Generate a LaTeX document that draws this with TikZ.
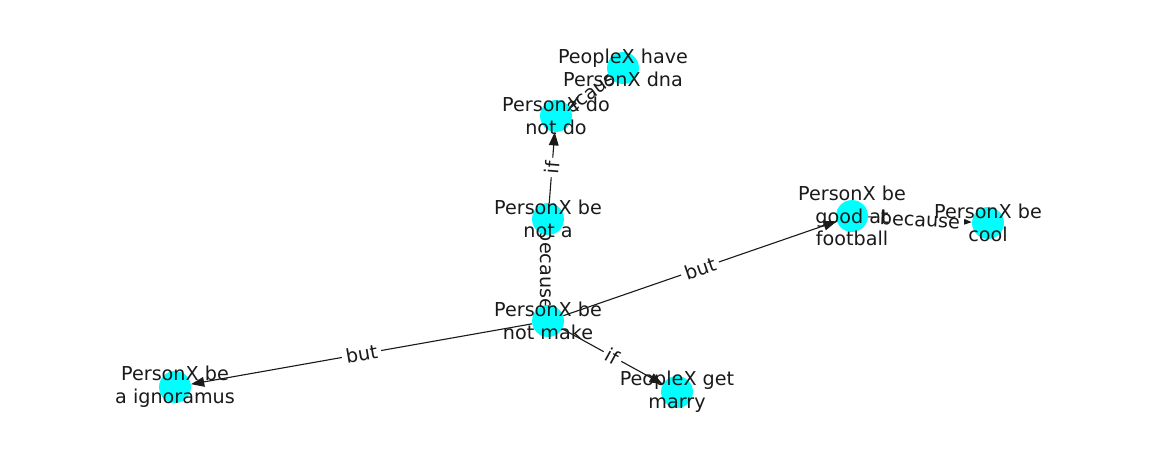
\documentclass[tikz,border=0pt]{standalone}
\usepackage{fontspec}
\setmainfont{DejaVu Sans}
\usetikzlibrary{arrows.meta,calc}
\definecolor{nodecyan}{RGB}{0,255,255}
\definecolor{ink}{RGB}{26,26,26}
\pgfdeclarelayer{edges}
\pgfdeclarelayer{elabels}
\pgfsetlayers{edges,elabels,main}
\begin{document}
\begin{tikzpicture}[x=0.72pt,y=-0.72pt,
  dot/.style={circle,fill=nodecyan,minimum size=23pt,inner sep=0pt},
  txt/.style={align=center,font=\fontsize{13.8pt}{16.3pt}\selectfont,text=ink,inner sep=0pt},
  link/.style={draw=ink,line width=0.8pt,-{Triangle[length=9.5pt,width=7pt]}},
  elabel/.style={fill=white,rounded corners=3pt,inner sep=2.8pt,
    font=\fontsize{13.8pt}{16pt}\selectfont,text=ink}]
\useasboundingbox (0,0) rectangle (1162,462);

% concept nodes
\node[dot] (dna)  at (623,68)  {};
\node[dot] (do)   at (556,116) {};
\node[dot] (nota) at (548,219) {};
\node[dot] (foot) at (852,216) {};
\node[dot] (cool) at (988,223) {};
\node[dot] (make) at (548,321) {};
\node[dot] (ign)  at (175,387) {};
\node[dot] (mar)  at (677,392) {};

\node[txt] (dnat)  at (dna)  {PeopleX have\\PersonX dna};
\node[txt] (dot)   at (do)   {PersonX do\\not do};
\node[txt] (notat) at (nota) {PersonX be\\not a};
\node[txt] (foott) at (foot) {PersonX be\\good at\\football};
\node[txt] (coolt) at (cool) {PersonX be\\cool};
\node[txt] (maket) at (make) {PersonX be\\not make};
\node[txt] (ignt)  at (ign)  {PersonX be\\a ignoramus};
\node[txt] (mart)  at (mar)  {PeopleX get\\marry};

% relations
\begin{pgfonlayer}{edges}
\draw[link] (make) -- (foot);
\draw[link] (make) -- (ign);
\draw[link] (make) -- (mar);
\draw[link] (make) -- (nota);
\draw[link] (nota) -- (do);
\draw[link] (do) -- (dna);
\draw[link] (foot) -- (cool);
\end{pgfonlayer}

% relation labels
\begin{pgfonlayer}{elabels}
\node[elabel,rotate=19.1]  (l1) at ($(make)!0.5!(foot)$) {but};
\node[elabel,rotate=9.9]   (l2) at ($(make)!0.5!(ign)$)  {but};
\node[elabel,rotate=-28.7] (l3) at ($(make)!0.5!(mar)$)  {if};
\node[elabel,rotate=-90]   (l4) at ($(make)!0.5!(nota)$) {because};
\node[elabel,rotate=85.5]  (l5) at ($(nota)!0.5!(do)$)   {if};
\node[elabel,rotate=36]    (l6) at ($(do)!0.5!(dna)$)    {because};
\node[elabel,rotate=-2.9]  (l7) at ($(foot)!0.5!(cool)$) {because};
\end{pgfonlayer}
\end{tikzpicture}
\end{document}
